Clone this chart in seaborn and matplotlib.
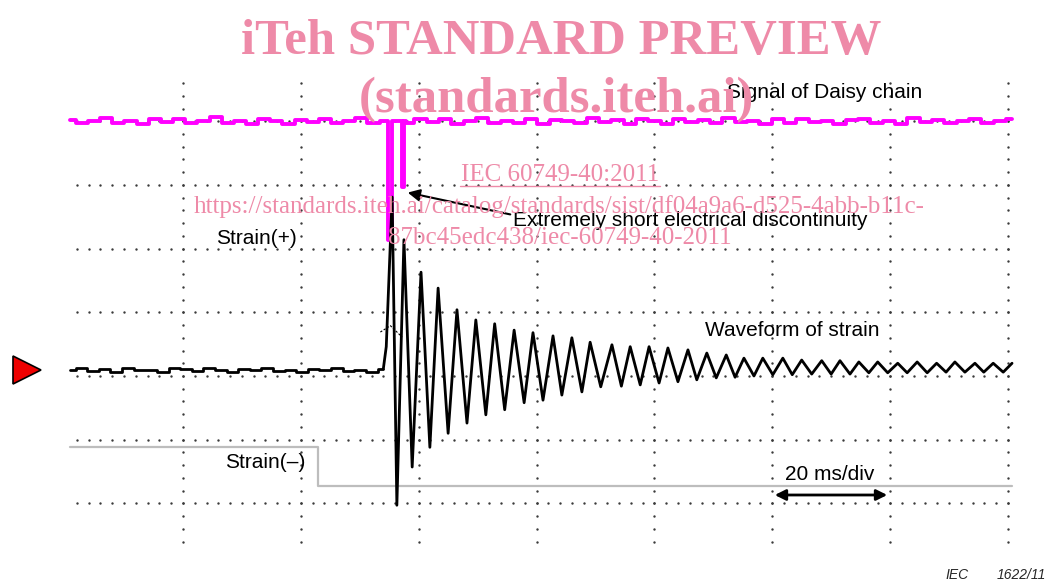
import numpy as np
import seaborn as sns
import matplotlib.pyplot as plt

# time in ms (20 ms/div), amplitude in screen divisions
# signal of daisy chain (magenta), level 4 div
daisy_level = 4.0
daisy_pre_noise = [0.02, -0.03, 0.01, 0.05, -0.02, 0.01, -0.05, 0.03, -0.01, 0.04, -0.03, 0.01, 0.06, -0.02,
                   0.00, -0.04, 0.03, 0.01, -0.05, 0.02, -0.01, 0.04, -0.03, 0.01, 0.05, -0.02, 0.01]
daisy_post_noise = [-0.02, 0.04, -0.01, 0.03, -0.05, 0.01, 0.05, -0.03, 0.01, -0.02, 0.04, -0.04, 0.02, 0.00,
                    -0.03, 0.05, -0.01, 0.02, -0.04, 0.03, 0.01, -0.05, 0.04, -0.01, 0.02, -0.03, 0.05, -0.01,
                    0.01, -0.04, 0.03, -0.02, 0.04, -0.01, 0.01, -0.05, 0.02, 0.03, -0.02, 0.01, -0.04, 0.05,
                    -0.01, 0.02, -0.03, 0.01, 0.04, -0.02, 0.01, 0.03]
spike_t = [54.8, 54.8, 55.4, 55.4, 57.2, 57.2, 57.5, 57.6]
spike_v = [4.0, 2.14, 2.14, 4.0, 4.0, 2.97, 2.97, 4.0]

# waveform of strain (black)
strain_pre = [0.10, 0.13, 0.08, 0.11, 0.07, 0.12, 0.09, 0.10, 0.06, 0.12, 0.11, 0.08, 0.13, 0.09,
              0.07, 0.11, 0.10, 0.12, 0.08, 0.10, 0.06, 0.11, 0.09, 0.12, 0.08, 0.10, 0.07, 0.11]
osc_t = [54.5, 55.5, 56.3, 57.5, 58.9, 60.4, 61.9, 63.3, 65.0, 66.5, 68.2, 69.7, 71.4, 72.9, 74.6, 76.2,
         77.9, 79.4, 81.1, 82.8, 84.3, 86.0, 87.7, 89.1, 90.9, 92.8, 94.4, 95.9, 97.6, 99.1, 100.8,
         102.3, 104.0, 105.7, 107.2, 108.9, 110.5, 112.2, 113.7, 115.2, 116.9, 118.4, 120.1, 121.8,
         123.4, 125.0, 126.7, 128.4, 130.0, 131.5, 133.2, 134.7, 136.4, 137.9, 139.6, 141.3, 142.9,
         144.6, 146.3, 147.9, 149.5, 151.0, 152.7, 154.4, 155.9, 157.5, 159.2, 160.7]
osc_v = [0.46, 2.81, -2.03, 2.14, -1.43, 1.63, -1.12, 1.38, -0.90, 1.04, -0.74, 0.88, -0.61, 0.82, -0.53,
         0.72, -0.42, 0.68, -0.38, 0.63, -0.30, 0.60, -0.25, 0.53, -0.17, 0.49, -0.16, 0.46, -0.14, 0.46,
         -0.11, 0.44, -0.09, 0.41, -0.06, 0.36, -0.03, 0.33, -0.02, 0.28, 0.00, 0.28, 0.02, 0.28, 0.02,
         0.25, 0.03, 0.24, 0.03, 0.24, 0.03, 0.22, 0.05, 0.22, 0.05, 0.20, 0.05, 0.22, 0.05, 0.20, 0.06,
         0.22, 0.06, 0.20, 0.06, 0.20, 0.06, 0.20]
chevron_t = [53.5, 55.2, 57.2]
chevron_v = [0.69, 0.79, 0.61]

# strain(-) level (grey)
neg_t = [0.8, 42.9, 42.9, 160.7]
neg_v = [-1.12, -1.12, -1.73, -1.73]

ground_level = 0.09

sns.set_style("white")
plt.rcParams['font.family'] = ['Liberation Sans', 'DejaVu Sans']

W, H = 1053, 581
fig = plt.figure(figsize=(W / 100, H / 100), dpi=100)
ax = fig.add_axes([0, 0, 1, 1])
ax.set_xlim(-11.05, 167.65)
ax.set_ylim(-3.22, 5.905)
ax.axis('off')

# dotted graticule
for gx in np.arange(20, 161, 20):
    gy = np.arange(-2.6, 4.61, 0.2)
    ax.scatter(np.full_like(gy, gx), gy, s=3, color='#3a3a3a', linewidths=0, zorder=1)
for gy in range(-2, 5):
    gx = np.arange(2, 160.1, 2)
    ax.scatter(gx, np.full_like(gx, gy), s=3, color='#3a3a3a', linewidths=0, zorder=1)

# traces
t_pre = np.linspace(0.8, 54.4, len(daisy_pre_noise))
t_post = np.linspace(58.2, 160.7, len(daisy_post_noise))
daisy_t = list(t_pre) + spike_t + list(t_post)
daisy_v = [daisy_level + n for n in daisy_pre_noise] + spike_v + [daisy_level + n for n in daisy_post_noise]
sns.lineplot(x=daisy_t, y=daisy_v, ax=ax, color='#ff00ff', linewidth=2.8, sort=False,
             estimator=None, drawstyle='steps-mid', zorder=3)

sns.lineplot(x=np.linspace(0.8, 54.0, len(strain_pre)), y=strain_pre, ax=ax, color='black',
             linewidth=2.0, sort=False, estimator=None, drawstyle='steps-mid', zorder=4)
sns.lineplot(x=[54.0] + osc_t, y=[strain_pre[-1]] + osc_v, ax=ax, color='black', linewidth=2.0,
             sort=False, estimator=None, zorder=4)
ax.plot(chevron_t, chevron_v, color='black', linewidth=0.8, linestyle=(0, (2, 1.5)), zorder=4)

sns.lineplot(x=neg_t, y=neg_v, ax=ax, color='#bdbdbd', linewidth=1.6, sort=False,
             estimator=None, zorder=2)

ax.plot([-6.5], [ground_level], marker='>', markersize=20, color='#ee0000',
        markeredgecolor='black', markeredgewidth=1.2, zorder=5)


def fx(x):
    return x / W


def fy(y):
    return 1 - y / H


# labels
lab = dict(fontsize=15, color='black', zorder=6)
fig.text(fx(727), fy(93), 'Signal of Daisy chain', ha='left', va='center', **lab)
fig.text(fx(513), fy(221), 'Extremely short electrical discontinuity', ha='left', va='center', **lab)
fig.text(fx(216), fy(238), 'Strain(+)', ha='left', va='center', **lab)
fig.text(fx(705), fy(330), 'Waveform of strain', ha='left', va='center', **lab)
fig.text(fx(225), fy(463), 'Strain(\u2013)', ha='left', va='center', **lab)
fig.text(fx(785), fy(474), '20 ms/div', ha='left', va='center', **lab)
fig.text(fx(945), fy(575), 'IEC', ha='left', va='center', fontsize=10, style='italic')
fig.text(fx(1046), fy(575), '1622/11', ha='right', va='center', fontsize=10, style='italic')

ax.annotate('', xy=(405, H - 192), xycoords='figure pixels', xytext=(513, H - 215),
            textcoords='figure pixels',
            arrowprops=dict(arrowstyle='-|>', color='black', lw=1.5, mutation_scale=18))
ax.annotate('', xy=(772, H - 495), xycoords='figure pixels', xytext=(890, H - 495),
            textcoords='figure pixels',
            arrowprops=dict(arrowstyle='<|-|>', color='black', lw=2, mutation_scale=16))

# watermark
pink = '#ee8aa8'
wm = dict(color=pink, family=['Liberation Serif', 'DejaVu Serif'], zorder=7)
fig.text(fx(561), fy(54), 'iTeh STANDARD PREVIEW', ha='center', va='baseline', fontsize=36.5,
         fontweight='bold', **wm)
fig.text(fx(556), fy(112), '(standards.iteh.ai)', ha='center', va='baseline', fontsize=36.5,
         fontweight='bold', **wm)
fig.text(fx(560), fy(175), 'IEC 60749-40:2011', ha='center', va='center', fontsize=18, **wm)
fig.add_artist(plt.Line2D([fx(460), fx(660)], [fy(186), fy(186)], color=pink, linewidth=1))
fig.text(fx(559), fy(207), 'https://standards.iteh.ai/catalog/standards/sist/df04a9a6-d525-4abb-b11c-',
         ha='center', va='center', fontsize=18, **wm)
fig.text(fx(560), fy(238), '87bc45edc438/iec-60749-40-2011', ha='center', va='center', fontsize=18, **wm)

plt.savefig('out.png', dpi=100)
